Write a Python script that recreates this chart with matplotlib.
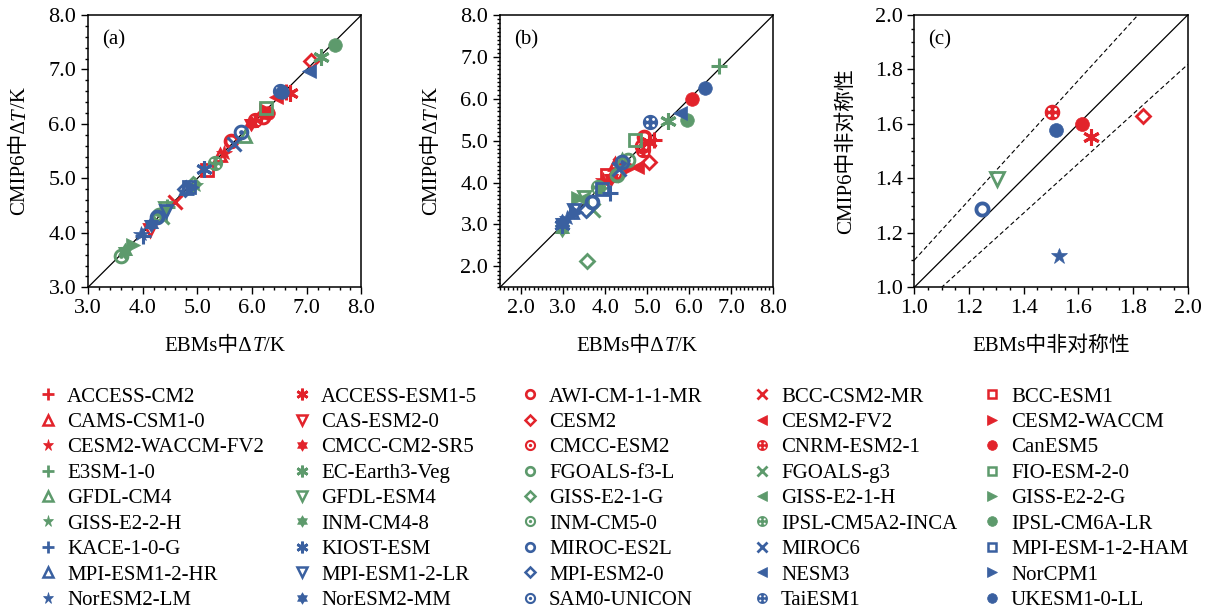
import numpy as np
import matplotlib
matplotlib.use("Agg")
import matplotlib.pyplot as plt
from matplotlib.path import Path
from matplotlib.lines import Line2D
from matplotlib.ticker import MultipleLocator, FormatStrFormatter
from matplotlib.transforms import offset_copy

plt.rcParams['font.family'] = ['Liberation Serif', 'Noto Sans CJK SC']

# ---------------- data ----------------
models = ["ACCESS-CM2", "ACCESS-ESM1-5", "AWI-CM-1-1-MR", "BCC-CSM2-MR", "BCC-ESM1",
          "CAMS-CSM1-0", "CAS-ESM2-0", "CESM2", "CESM2-FV2", "CESM2-WACCM",
          "CESM2-WACCM-FV2", "CMCC-CM2-SR5", "CMCC-ESM2", "CNRM-ESM2-1", "CanESM5",
          "E3SM-1-0", "EC-Earth3-Veg", "FGOALS-f3-L", "FGOALS-g3", "FIO-ESM-2-0",
          "GFDL-CM4", "GFDL-ESM4", "GISS-E2-1-G", "GISS-E2-1-H", "GISS-E2-2-G",
          "GISS-E2-2-H", "INM-CM4-8", "INM-CM5-0", "IPSL-CM5A2-INCA", "IPSL-CM6A-LR",
          "KACE-1-0-G", "KIOST-ESM", "MIROC-ES2L", "MIROC6", "MPI-ESM-1-2-HAM",
          "MPI-ESM1-2-HR", "MPI-ESM1-2-LR", "MPI-ESM2-0", "NESM3", "NorCPM1",
          "NorESM2-LM", "NorESM2-MM", "SAM0-UNICON", "TaiESM1", "UKESM1-0-LL"]

# panel (a): EBM vs CMIP6 dT
a_ebm = [6.62, 6.70, 5.62, 4.60, 5.18,
         5.42, 4.13, 7.08, 6.43, 6.25,
         5.48, 5.98, 6.20, 6.05, 6.30,
         4.45, 7.27, 4.30, 4.36, 6.26,
         5.88, 4.40, 4.92, 4.32, 3.82,
         4.95, 3.68, 3.60, 5.33, 7.52,
         4.00, 5.13, 4.26, 5.67, 4.85,
         4.80, 4.43, 4.78, 7.04, 4.90,
         3.97, 4.15, 5.80, 6.52, 6.55]
a_cmip = [6.58, 6.56, 5.68, 4.57, 5.16,
          5.43, 4.05, 7.16, 6.50, 6.25,
          5.46, 6.02, 6.13, 6.08, 6.20,
          4.47, 7.22, 4.32, 4.30, 6.29,
          5.78, 4.45, 4.90, 4.35, 3.78,
          4.88, 3.66, 3.58, 5.29, 7.44,
          3.95, 5.18, 4.30, 5.64, 4.85,
          4.82, 4.40, 4.80, 6.98, 4.85,
          3.97, 4.17, 5.86, 6.61, 6.58]

# panel (b): EBM vs CMIP6 dT
b_ebm = [5.15, 5.05, 4.92, 4.35, 4.05,
         4.23, 4.30, 5.05, 4.75, 4.62,
         3.96, 4.15, 4.87, 4.89, 6.07,
         6.71, 5.50, 4.27, 3.72, 4.71,
         4.40, 3.50, 3.57, 3.45, 3.36,
         3.90, 2.98, 4.55, 3.82, 5.95,
         4.12, 2.97, 3.68, 4.32, 3.92,
         3.20, 3.25, 3.55, 5.78, 3.30,
         3.10, 2.98, 4.40, 5.07, 6.37]
b_cmip = [5.02, 4.98, 5.08, 4.42, 4.17,
          4.45, 4.20, 4.49, 4.37, 4.38,
          4.05, 4.10, 4.88, 4.78, 5.99,
          6.78, 5.47, 4.17, 3.34, 5.02,
          4.55, 3.65, 2.13, 3.60, 3.62,
          3.85, 2.90, 4.53, 3.90, 5.50,
          3.75, 2.99, 3.54, 4.33, 3.85,
          3.30, 3.35, 3.35, 5.67, 3.30,
          3.15, 3.07, 4.50, 5.45, 6.25]

# panel (c): asymmetry
c_models = ["CNRM-ESM2-1", "UKESM1-0-LL", "CanESM5", "ACCESS-ESM1-5",
            "CESM2", "GFDL-ESM4", "MIROC-ES2L", "NorESM2-LM"]
c_ebm = [1.502, 1.518, 1.612, 1.646, 1.835, 1.301, 1.246, 1.529]
c_cmip = [1.643, 1.576, 1.600, 1.552, 1.630, 1.399, 1.287, 1.116]

lim_a = [3.0, 8.0]
lim_b = [1.5, 8.0]
lim_c = [1.0, 2.0]
ratio_c = 1.1

# ---------------- styles ----------------
RED, GREEN, BLUE = "#e2232b", "#5d9a6c", "#3a60a0"
group_colors = [RED, GREEN, BLUE]


def circ(cx, cy, r, ccw=True, n=64):
    t = np.linspace(0, 2 * np.pi, n, endpoint=False)
    if not ccw:
        t = t[::-1]
    return np.column_stack([cx + r * np.cos(t), cy + r * np.sin(t)])


def compound(*loops):
    verts, codes = [], []
    for lp in loops:
        verts.extend(lp.tolist())
        verts.append(lp[0].tolist())
        codes.extend([Path.MOVETO] + [Path.LINETO] * (len(lp) - 1) + [Path.CLOSEPOLY])
    return Path(np.array(verts), codes)


def hexagram():
    ang = np.pi / 2 + np.arange(12) * np.pi / 6
    r = np.where(np.arange(12) % 2 == 0, 1.0, 0.60)
    return compound(np.column_stack([r * np.cos(ang), r * np.sin(ang)]))


RING = compound(circ(0, 0, 1.0), circ(0, 0, 0.52, ccw=False))
BULL = compound(circ(0, 0, 1.0), circ(0, 0, 0.62, ccw=False), circ(0, 0, 0.30))
d = 0.40
hr = 0.19
DOTC = compound(circ(0, 0, 1.0), circ(d, d, hr, False), circ(-d, d, hr, False),
                circ(d, -d, hr, False), circ(-d, -d, hr, False))
HEXA = hexagram()

# (marker, kind, size factor) for the 15 legend slots of each colour group
shapes = [("+", "line", 1.15), ((6, 2, 0), "line", 1.2), (RING, "path", 1.15), ("x", "line", 1.0), ("s", "open", 0.85),
          ("^", "open", 0.95), ("v", "open", 0.95), ("D", "open", 0.72), ("<", "fill", 1.0), (">", "fill", 1.0),
          ("*", "fill", 1.18), (HEXA, "path", 1.3), (BULL, "path", 1.15), (DOTC, "path", 1.12), ("o", "fill", 1.0)]


def style(i, ms, lw):
    row, col = divmod(i, 5)
    color = group_colors[row // 3]
    mk, kind, f = shapes[(row % 3) * 5 + col]
    kw = dict(marker=mk, markersize=ms * f, linestyle="none")
    if kind == "line":
        kw.update(mfc=color, mec=color, mew=lw * 1.1)
    elif kind == "open":
        kw.update(mfc="none", mec=color, mew=lw)
    elif kind == "fill":
        kw.update(mfc=color, mec=color, mew=0.5)
    else:
        kw.update(mfc=color, mec="none", mew=0)
    return kw


# ---------------- figure ----------------
fig = plt.figure(figsize=(12.06, 6.13), dpi=100)
axw, axh = 273.4 / 1206, 272.3 / 613
bottom = 1 - 287.3 / 613
ax_a = fig.add_axes([88 / 1206, bottom, axw, axh])
ax_b = fig.add_axes([500 / 1206, bottom, axw, axh])
ax_c = fig.add_axes([914.3 / 1206, bottom, axw, axh])

TICKFS = 16
LABFS = 15


def setup(ax, lim, major, minor):
    ax.set_xlim(lim)
    ax.set_ylim(lim)
    for axis in (ax.xaxis, ax.yaxis):
        axis.set_major_locator(MultipleLocator(major))
        axis.set_minor_locator(MultipleLocator(minor))
        axis.set_major_formatter(FormatStrFormatter("%.1f"))
    ax.tick_params(which="both", direction="out", top=False, right=False, labelsize=TICKFS, width=1.0)
    ax.tick_params(which="major", length=5)
    ax.tick_params(which="minor", length=2.5)
    for sp in ax.spines.values():
        sp.set_linewidth(1.1)
    ax.plot(lim, lim, color="black", lw=0.9, zorder=1)


setup(ax_a, lim_a, 1.0, 0.2)
setup(ax_b, lim_b, 1.0, 0.1)
setup(ax_c, lim_c, 0.2, 0.05)
ax_c.plot(lim_c, [v * ratio_c for v in lim_c], color="black", lw=0.8, ls=(0, (4, 2.5)), zorder=1)
ax_c.plot(lim_c, [v / ratio_c for v in lim_c], color="black", lw=0.8, ls=(0, (4, 2.5)), zorder=1)

MS = 9.8
for i, m in enumerate(models):
    ax_a.plot([a_ebm[i]], [a_cmip[i]], zorder=3, **style(i, MS, 2.0))
    ax_b.plot([b_ebm[i]], [b_cmip[i]], zorder=3, **style(i, MS, 2.0))
for j, m in enumerate(c_models):
    i = models.index(m)
    ax_c.plot([c_ebm[j]], [c_cmip[j]], zorder=3, **style(i, MS * 1.02, 2.0))

for ax, lab in zip((ax_a, ax_b, ax_c), ("(a)", "(b)", "(c)")):
    ax.text(0.052, 0.91, lab, transform=ax.transAxes, fontsize=LABFS, ha="left", va="center")

# ---------------- rich axis labels ----------------
fig.canvas.draw()
renderer = fig.canvas.get_renderer()


def rich_label(ax, pieces, pos, vertical):
    texts = []
    for s, st in pieces:
        t = fig.text(0, 0, s, fontsize=LABFS, fontstyle=st, ha="left", va="baseline",
                     rotation=90 if vertical else 0, rotation_mode="anchor")
        texts.append(t)
    lens = []
    for t in texts:
        bb = t.get_window_extent(renderer)
        lens.append(bb.height if vertical else bb.width)
    total = sum(lens)
    off = -total / 2
    for t, L in zip(texts, lens):
        if vertical:
            tr = offset_copy(ax.transAxes, fig=fig, x=0, y=off, units="dots")
        else:
            tr = offset_copy(ax.transAxes, fig=fig, x=off, y=0, units="dots")
        t.set_transform(tr)
        t.set_position(pos)
        off += L


dT_x = [("EBMs中Δ", "normal"), ("T", "italic"), ("/K", "normal")]
dT_y = [("CMIP6中Δ", "normal"), ("T", "italic"), ("/K", "normal")]
for ax in (ax_a, ax_b):
    rich_label(ax, dT_x, (0.5, -0.234), False)
    rich_label(ax, dT_y, (-0.232, 0.5), True)
rich_label(ax_c, [("EBMs中非对称性", "normal")], (0.5, -0.234), False)
rich_label(ax_c, [("CMIP6中非对称性", "normal")], (-0.232, 0.5), True)

# ---------------- legend (5 columns, alphabetical row-major) ----------------
col_x = [37.6, 291.6, 519.6, 751.6, 981.6]
for c in range(5):
    idx = list(range(c, len(models), 5))
    handles = [Line2D([], [], **style(i, 7.0, 1.8)) for i in idx]
    labels = [models[i] for i in idx]
    fig.legend(handles, labels, loc="upper left", bbox_to_anchor=(col_x[c] / 1206, 1 - 387 / 613),
               frameon=False, fontsize=15, handlelength=1.0, handletextpad=0.41,
               borderpad=0, borderaxespad=0, labelspacing=0.28, numpoints=1)

fig.savefig("out.png", dpi=100)
